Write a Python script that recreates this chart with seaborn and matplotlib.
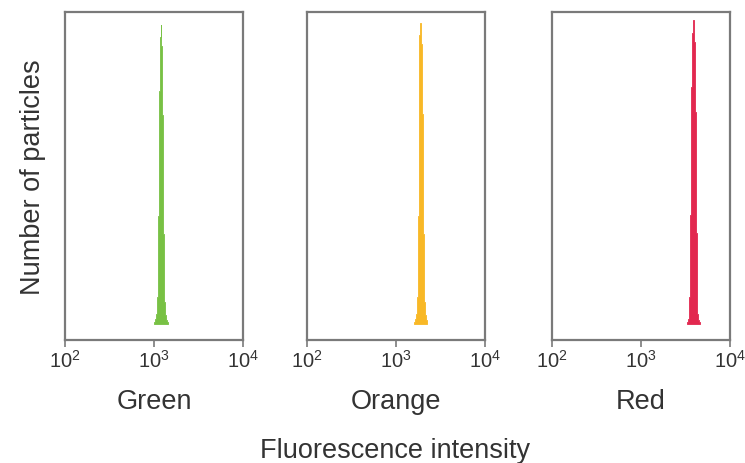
import numpy as np
import pandas as pd
import matplotlib
matplotlib.use("Agg")
import matplotlib.pyplot as plt
import seaborn as sns

sns.set_theme(style="white")
plt.rcParams['font.family'] = ['Liberation Sans', 'DejaVu Sans']
plt.rcParams['mathtext.fontset'] = 'custom'
plt.rcParams['mathtext.rm'] = 'Liberation Sans'
plt.rcParams['mathtext.it'] = 'Liberation Sans'

# Data
channels = ["Green", "Orange", "Red"]
colors = ["#78C144", "#F8B826", "#E2284F"]
peak_centers = [1200, 1900, 3880]           # fluorescence intensity at peak
peak_scale = [100.0, 100.5, 101.5]          # relative peak heights
# peak profile: offsets (log10 decades) and relative counts
offsets = [-0.07, -0.06, -0.05, -0.04, -0.03, -0.02, -0.01, 0.0,
           0.01, 0.02, 0.03, 0.04, 0.05, 0.06, 0.07]
profile = [0.8, 1.6, 3.5, 9.0, 36.0, 78.0, 96.0, 100.0,
           93.0, 70.0, 30.0, 7.5, 3.2, 1.4, 0.8]
tick_vals = [1e2, 1e3, 1e4]
tick_labels = ["$10^{2}$", "$10^{3}$", "$10^{4}$"]

fig = plt.figure(figsize=(7.45, 4.64), dpi=100)
W, H = 745, 464
lefts = [65, 307, 552]
aw, top, bot = 178, 13, 341

text_color = "#333333"
frame_color = "#7a7a7a"

for i, ch in enumerate(channels):
    ax = fig.add_axes([lefts[i] / W, (H - bot) / H, aw / W, (bot - top) / H])
    c = np.log10(peak_centers[i])
    df = pd.DataFrame({
        "x": 10 ** (c + np.array(offsets)),
        "w": np.array(profile) * peak_scale[i] / 100.0,
    })
    edges = [float(c + o - 0.005) for o in offsets] + [float(c + offsets[-1] + 0.005)]
    sns.histplot(data=df, x="x", weights="w", bins=edges,
                 log_scale=True, element="step", fill=True, color=colors[i],
                 edgecolor=colors[i], linewidth=0.6, alpha=1.0, ax=ax)
    ax.set_xlim(1e2, 1e4)
    ax.set_ylim(-5.3, 104.3)
    ax.set_xticks(tick_vals)
    ax.set_xticklabels(tick_labels)
    ax.minorticks_off()
    ax.set_yticks([])
    ax.set_ylabel("")
    ax.set_xlabel(ch, fontsize=19.5, color=text_color, labelpad=12)
    ax.tick_params(axis="x", direction="out", length=5, width=1.2, color=frame_color,
                   labelsize=14.5, labelcolor=text_color, pad=1.5, bottom=True)
    for s in ax.spines.values():
        s.set_color(frame_color)
        s.set_linewidth(1.6)
    if i == 0:
        ax.set_ylabel("Number of particles", fontsize=19.5, color=text_color, labelpad=14)

fig.text(395 / W, 1 - 451 / H, "Fluorescence intensity", ha="center", va="center",
         fontsize=19.5, color=text_color)

fig.savefig("out.png", dpi=100)
